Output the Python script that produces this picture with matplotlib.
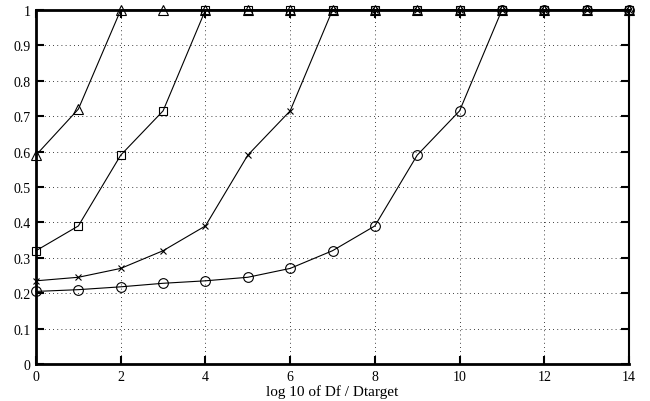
import numpy as np
import matplotlib
matplotlib.use("Agg")
import matplotlib.pyplot as plt

plt.rcParams['font.family'] = ['Liberation Serif', 'DejaVu Serif']

x = np.arange(0, 15)
tri = [0.59, 0.72, 1, 1, 1, 1, 1, 1, 1, 1, 1, 1, 1, 1, 1]
sq = [0.32, 0.39, 0.59, 0.715, 1, 1, 1, 1, 1, 1, 1, 1, 1, 1, 1]
cross = [0.235, 0.245, 0.27, 0.32, 0.39, 0.59, 0.715, 1, 1, 1, 1, 1, 1, 1, 1]
circ = [0.205, 0.21, 0.218, 0.228, 0.235, 0.245, 0.27, 0.32, 0.39, 0.59, 0.715,
        1, 1, 1, 1]

xticks = [0, 2, 4, 6, 8, 10, 12, 14]
yticks = [0, 0.1, 0.2, 0.3, 0.4, 0.5, 0.6, 0.7, 0.8, 0.9, 1]
ylabels = ['0', '0.1', '0.2', '0.3', '0.4', '0.5', '0.6', '0.7', '0.8', '0.9', '1']

fig = plt.figure(figsize=(6.5, 4.02), dpi=100)
ax = fig.add_axes([36 / 650, 1 - 365 / 402, (629 - 36) / 650, (365 - 11) / 402])

style = dict(color='k', lw=0.8, mfc='none', mec='k', mew=0.8, clip_on=False)
ax.plot(x, tri, marker='^', ms=7, **style)
ax.plot(x, sq, marker='s', ms=6, **style)
ax.plot(x, cross, marker='x', ms=5, **style)
ax.plot(x, circ, marker='o', ms=7, **style)

ax.set_xlim(0, 14)
ax.set_ylim(0, 1)
ax.set_xticks(xticks)
ax.set_xticklabels([str(t) for t in xticks])
ax.set_yticks(yticks)
ax.set_yticklabels(ylabels)
ax.grid(True, linestyle=(0, (1, 4)), color='k', lw=0.6)
ax.tick_params(direction='in', length=6, width=1.5, labelsize=10,
               top=True, right=True, pad=4)
for s in ['left', 'bottom', 'top']:
    ax.spines[s].set_linewidth(2)
ax.spines['right'].set_linewidth(1.5)
ax.set_xlabel('log 10 of Df / Dtarget', fontsize=11, labelpad=1)

fig.savefig('out.png', dpi=100)
